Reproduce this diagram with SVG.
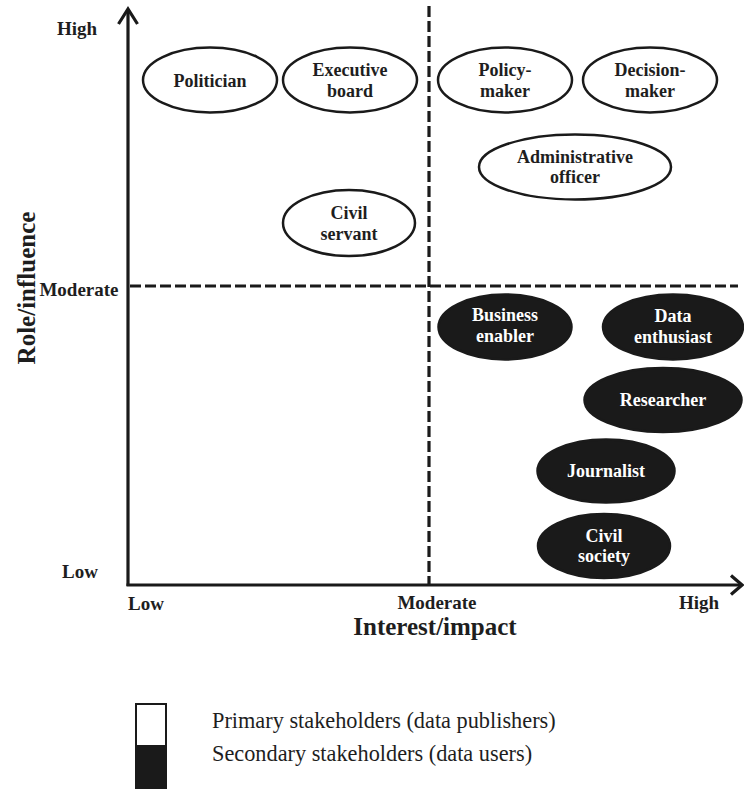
<svg xmlns="http://www.w3.org/2000/svg" width="744" height="789" viewBox="0 0 744 789">
<style>
.lbl{font-family:"Liberation Serif","Times New Roman",serif;font-weight:bold;font-size:18px;fill:#1e1e1e;text-anchor:middle}
.inv{fill:#ffffff}
.tick{font-family:"Liberation Serif","Times New Roman",serif;font-weight:bold;font-size:19px;fill:#1e1e1e;text-anchor:middle}
.title{font-family:"Liberation Serif","Times New Roman",serif;font-weight:bold;font-size:25px;fill:#1e1e1e;text-anchor:middle}
.leg{font-family:"Liberation Serif","Times New Roman",serif;font-size:22.3px;fill:#1e1e1e}
.wn{fill:#ffffff;stroke:#1a1a1a;stroke-width:2.5}
.bn{fill:#1a1a1a;stroke:#1a1a1a;stroke-width:2.5}
.axis{stroke:#1a1a1a;stroke-width:3.2;fill:none}
.dash{stroke:#1a1a1a;stroke-width:3.2;fill:none;stroke-dasharray:11 4}
</style>
<rect width="744" height="789" fill="#ffffff"/>
<g id="connectors">
<line class="dash" x1="429" y1="6" x2="429" y2="585"/>
<line class="dash" x1="130" y1="286" x2="738" y2="286"/>
<line class="axis" x1="128" y1="586" x2="128" y2="10"/>
<polyline class="axis" points="118.5,24 128,9 137.5,24"/>
<line class="axis" x1="126.5" y1="585" x2="741" y2="585"/>
<polyline class="axis" points="731,575.5 742,585 731,594.5"/>
</g>
<g id="axis-labels">
<text class="tick" x="77" y="35">High</text>
<text class="tick" x="79" y="296">Moderate</text>
<text class="tick" x="80" y="578">Low</text>
<text class="tick" x="146" y="610">Low</text>
<text class="tick" x="437" y="609">Moderate</text>
<text class="tick" x="699" y="609">High</text>
<text class="title" x="435" y="635">Interest/impact</text>
<text class="title" transform="translate(35,288) rotate(-90)" x="0" y="0">Role/influence</text>
</g>
<g id="politician"><ellipse class="wn" cx="210" cy="80" rx="67" ry="32.5"/><text class="lbl" x="210" y="87">Politician</text></g>
<g id="executive-board"><ellipse class="wn" cx="350" cy="80" rx="67" ry="32.5"/><text class="lbl" x="350" y="76">Executive</text><text class="lbl" x="350" y="97">board</text></g>
<g id="civil-servant"><ellipse class="wn" cx="349" cy="223" rx="66" ry="33"/><text class="lbl" x="349" y="219">Civil</text><text class="lbl" x="349" y="240">servant</text></g>
<g id="policy-maker"><ellipse class="wn" cx="505" cy="80" rx="67" ry="32.5"/><text class="lbl" x="505" y="76">Policy-</text><text class="lbl" x="505" y="97">maker</text></g>
<g id="decision-maker"><ellipse class="wn" cx="650" cy="80" rx="67" ry="32.5"/><text class="lbl" x="650" y="76">Decision-</text><text class="lbl" x="650" y="97">maker</text></g>
<g id="administrative-officer"><ellipse class="wn" cx="575" cy="167" rx="96" ry="32.5"/><text class="lbl" x="575" y="163">Administrative</text><text class="lbl" x="575" y="183">officer</text></g>
<g id="business-enabler"><ellipse class="bn" cx="505" cy="327" rx="66.5" ry="32.5"/><text class="lbl inv" x="505" y="321">Business</text><text class="lbl inv" x="505" y="342">enabler</text></g>
<g id="data-enthusiast"><ellipse class="bn" cx="673" cy="327" rx="70" ry="32.5"/><text class="lbl inv" x="673" y="322">Data</text><text class="lbl inv" x="673" y="343">enthusiast</text></g>
<g id="researcher"><ellipse class="bn" cx="663" cy="400" rx="78.5" ry="32"/><text class="lbl inv" x="663" y="406">Researcher</text></g>
<g id="journalist"><ellipse class="bn" cx="606" cy="471" rx="68.5" ry="31.5"/><text class="lbl inv" x="606" y="477">Journalist</text></g>
<g id="civil-society"><ellipse class="bn" cx="604" cy="546" rx="66" ry="32"/><text class="lbl inv" x="604" y="542">Civil</text><text class="lbl inv" x="604" y="562">society</text></g>
<g id="legend">
<rect x="136" y="704" width="30" height="86" fill="#ffffff" stroke="#1a1a1a" stroke-width="2"/>
<rect x="135" y="745" width="32" height="44" fill="#1a1a1a"/>
<text class="leg" x="212" y="728">Primary stakeholders (data publishers)</text>
<text class="leg" x="212" y="761">Secondary stakeholders (data users)</text>
</g>
</svg>
